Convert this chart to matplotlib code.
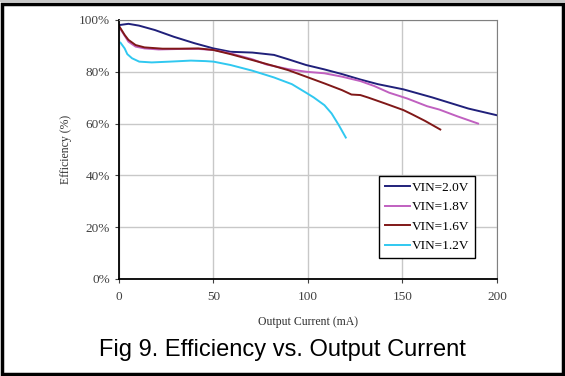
import matplotlib
matplotlib.use('Agg')
import matplotlib.pyplot as plt
from matplotlib.patches import Rectangle

# values
x20 = [0, 5, 10.6, 19, 29, 40, 50, 59, 70.6, 82, 89.6, 99, 108.7, 118, 127.7, 137, 150.5, 165.7, 184.8, 200]
y20 = [98, 98.5, 97.8, 96.1, 93.5, 91, 89, 87.7, 87.4, 86.5, 84.8, 82.6, 80.9, 79.1, 77, 75.2, 73.2, 70.1, 65.8, 63.2]

x18 = [0, 5, 8.8, 13.5, 21, 32.5, 42, 50, 59, 70.6, 78, 89.6, 99, 108.7, 118, 127.7, 135, 143, 152.4, 163, 169.5, 179, 190]
y18 = [97.4, 91.6, 89.7, 89, 88.6, 88.8, 88.8, 88.4, 87.1, 84.8, 82.8, 81, 80, 79.4, 78.1, 76.4, 74.5, 71.9, 69.7, 66.7, 65.4, 62.8, 60]

x16 = [0, 3, 5, 8.8, 13.5, 23, 32.5, 42, 50, 59, 70.6, 82, 89.6, 99, 108.7, 118, 123, 127.7, 132, 141, 150.5, 155, 162, 170]
y16 = [97.7, 94.2, 92.3, 90.3, 89.4, 88.9, 88.9, 89, 88.4, 86.8, 84.5, 82.2, 80.6, 78.1, 75.5, 72.9, 71.2, 71, 70, 67.7, 65.2, 63.6, 61, 57.7]

x12 = [0.8, 3, 4.4, 6.9, 10.7, 17.3, 26.8, 38, 45.9, 50, 59, 70.6, 82, 91.5, 99, 103, 108.7, 112.5, 116.3, 120]
y12 = [91.2, 89, 86.8, 85.2, 83.9, 83.6, 83.9, 84.3, 84.1, 83.9, 82.6, 80.4, 77.8, 75.2, 71.9, 70.1, 67.1, 63.9, 59.4, 54.6]

labels = ['VIN=2.0V', 'VIN=1.8V', 'VIN=1.6V', 'VIN=1.2V']
colors = ['#20207a', '#c060c0', '#801818', '#30c8f0']

serif = 'Liberation Serif'

fig = plt.figure(figsize=(5.65, 3.76), dpi=100)
ax = fig.add_axes([0.2106, 0.258, 0.669, 0.689])

for xs, ys, lab, c in zip([x20, x18, x16, x12], [y20, y18, y16, y12], labels, colors):
    ax.plot(xs, ys, color=c, lw=1.4, label=lab)

ax.set_xlim(0, 200)
ax.set_ylim(0, 100)
ax.set_xticks([0, 50, 100, 150, 200])
ax.set_yticks([0, 20, 40, 60, 80, 100])
ax.set_yticklabels(['0%', '20%', '40%', '60%', '80%', '100%'])
ax.grid(True, color='#c8c8c8', lw=1)
ax.set_axisbelow(True)
ax.tick_params(length=3, labelsize=9.5, colors='#404040', direction='out')
ax.tick_params(axis='x', pad=6)
for lbl in ax.get_xticklabels() + ax.get_yticklabels():
    lbl.set_fontfamily(serif)
ax.spines['left'].set_color('black')
ax.spines['bottom'].set_color('black')
ax.spines['left'].set_linewidth(1.3)
ax.spines['bottom'].set_linewidth(1.3)
ax.spines['top'].set_color('#808080')
ax.spines['right'].set_color('#808080')

ax.set_xlabel('Output Current (mA)', fontfamily=serif, fontsize=8.5, color='#303030', labelpad=9)
ax.set_ylabel('Efficiency (%)', fontfamily=serif, fontsize=8.5, color='#303030', labelpad=5)

leg = ax.legend(loc='lower right', bbox_to_anchor=(0.942, 0.08), prop={'family': serif, 'size': 9.5},
                fancybox=False, framealpha=1, edgecolor='black', handlelength=1.9,
                handletextpad=0.1, borderpad=0.45, labelspacing=0.55, borderaxespad=0)
leg.get_frame().set_linewidth(1)

fig.text(0.5, 0.07, 'Fig 9. Efficiency vs. Output Current', ha='center', va='center',
         fontfamily='Liberation Sans', fontsize=17)

# outer frame
fig.patches.append(Rectangle((0, 0.9947), 1, 0.0053, transform=fig.transFigure,
                             facecolor='#c8c8c8', edgecolor='none'))
fig.patches.append(Rectangle((0.0035, 0.005), 0.993, 0.985, transform=fig.transFigure,
                             fill=False, edgecolor='black', lw=2.5))

fig.savefig('out.png', dpi=100)
